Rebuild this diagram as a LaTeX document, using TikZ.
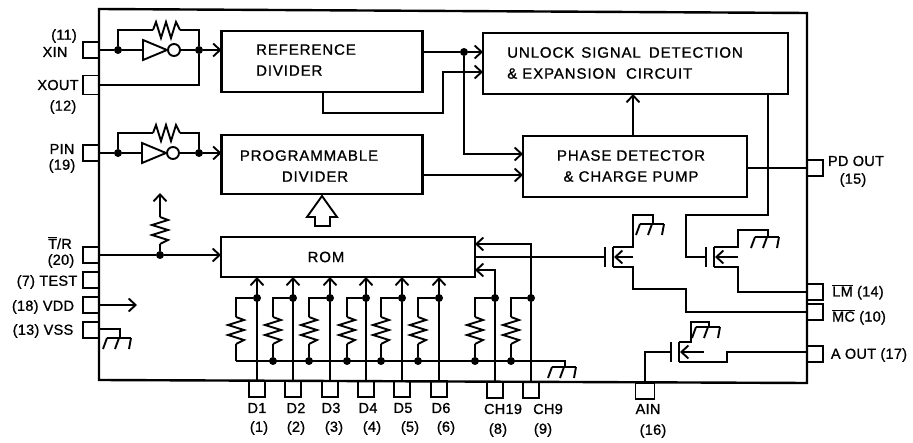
\documentclass[tikz,border=0pt]{standalone}
\usepackage{fontspec}
\usepackage{tikz}
\usetikzlibrary{arrows.meta}
\setmainfont[LetterSpace=6,FakeBold=1]{Liberation Sans}
\newfontfamily\pinfont[LetterSpace=2,FakeBold=1]{Liberation Sans}
\tikzset{
  wire/.style={line width=1.9pt,line join=miter},
  arrowwire/.style={wire,-{Straight Barb[length=7pt,width=13pt,line width=1.9pt]}},
  block/.style={draw,line width=2.4pt,rectangle,inner sep=0pt,outer sep=0pt},
  pinbox/.style={draw,line width=1.8pt,rectangle,inner sep=0pt,outer sep=0pt,minimum width=16pt,minimum height=16pt},
  dot/.style={circle,fill=black,inner sep=0pt,minimum size=8pt},
  blocktext/.style={inner sep=0pt,font=\fontsize{15}{21}\selectfont},
  pintext/.style={inner sep=0pt,font=\pinfont\fontsize{14.5}{16}\selectfont},
  pics/res/.style={code={
    \coordinate (-a) at (0,0);
    \coordinate (-b) at (27,0);
    \draw[wire] (0,0) -- (3,-8) -- (8,8) -- (13,-8) -- (18,8) -- (23,-8) -- (27,0);
  }},
  pics/gnd/.style={code={
    \coordinate (-o) at (0,0);
    \draw[wire] (-13,0) -- (11,0);
    \draw[wire] (-13,0) -- (-17,11);
    \draw[wire] (-1,0) -- (-5,11);
    \draw[wire] (11,0) -- (9,11);
  }},
  pics/inv/.style={code={
    \coordinate (-in) at (0,0);
    \coordinate (-out) at (37,0);
    \draw[wire] (0,-10) -- (24,0) -- (0,10) -- cycle;
    \draw[wire] (31,0) circle (6);
  }},
  pics/fet/.style={code={
    \coordinate (-g) at (0,0);
    \coordinate (-d) at (8,-10);
    \coordinate (-s) at (8,10);
    \draw[line width=2.4pt] (0,-10) -- (0,10);
    \draw[line width=2.4pt] (8,-10) -- (8,10);
    \draw[arrowwire] (#1,0) -- (9,0);
  }},
}
\begin{document}
\begin{tikzpicture}[x=1pt,y=-1pt]
\useasboundingbox (0,0) rectangle (913,443);
\draw [line width=2.4pt] (99,9) -- (807,13) -- (807,383) -- (99,380) -- cycle;

\node [block,minimum width=201pt,minimum height=61pt] (refdiv) at (322,61.5) {};
\node [block,minimum width=201pt,minimum height=59pt] (progdiv) at (322,164.5) {};
\node [block,minimum width=254pt,minimum height=40pt] (rom) at (348,257) {};
\node [block,minimum width=305pt,minimum height=61pt] (unlock) at (635.5,63.5) {};
\node [block,minimum width=224pt,minimum height=61pt] (phase) at (635,166.5) {};
\node [blocktext,align=left] (reftext) at (306,60) {REFERENCE\\DIVIDER};
\node [blocktext,align=center] (progtext) at (309,166) {PROGRAMMABLE\\\hspace{12pt}DIVIDER};
\node [blocktext] (romtext) at (326,257) {ROM};
\node [blocktext,align=left] (unlocktext) at (625,63) {UNLOCK\hspace{2pt} SIGNAL\hspace{3pt} DETECTION\\\& EXPANSION\ \ CIRCUIT\hspace{44pt}};
\node [blocktext,align=center] (phasetext) at (631,166) {PHASE DETECTOR\\\& CHARGE PUMP};

\node [pinbox] (xin) at (91,50) {};
\node [pinbox,minimum height=19pt] (xout) at (91,85) {};
\node [pinbox] (pin) at (91,153) {};
\node [pinbox] (tr) at (91,255) {};
\node [pinbox] (test) at (91,280) {};
\node [pinbox] (vdd) at (91,305) {};
\node [pinbox] (vss) at (91,330) {};
\node [pinbox] (pdout) at (815,168) {};
\node [pinbox] (lm) at (815,292) {};
\node [pinbox] (mc) at (815,312) {};
\node [pinbox] (aout) at (815,354) {};
\node [pinbox] (d1) at (257,389) {};
\node [pinbox] (d2) at (293,389) {};
\node [pinbox] (d3) at (330,389) {};
\node [pinbox] (d4) at (366,389) {};
\node [pinbox] (d5) at (402,389) {};
\node [pinbox] (d6) at (439,389) {};
\node [pinbox] (ch19) at (495,390) {};
\node [pinbox] (ch9) at (531,390) {};
\node [pinbox,minimum width=19pt] (ain) at (645,391) {};

\node [pintext] (xinnum) at (64,36) {(11)};
\node [pintext] (xinname) at (55,52) {XIN};
\node [pintext] (xoutname) at (58,85) {XOUT};
\node [pintext] (xoutnum) at (63,107) {(12)};
\node [pintext] (pinname) at (62,149) {PIN};
\node [pintext] (pinnum) at (62,166) {(19)};
\node [pintext] (trname) at (60,243) {$\overline{\hbox{T}}$/R};
\node [pintext] (trnum) at (61,261) {(20)};
\node [pintext] (testname) at (47,282) {(7) TEST};
\node [pintext] (vddname) at (43,307) {(18) VDD};
\node [pintext] (vssname) at (43,331) {(13) VSS};
\node [pintext] (pdname) at (856,161) {PD OUT};
\node [pintext] (pdnum) at (853,180) {(15)};
\node [pintext] (lmname) at (858,292) {$\overline{\hbox{LM}}$ (14)};
\node [pintext] (mcname) at (859,317) {$\overline{\hbox{MC}}$ (10)};
\node [pintext] (aoutname) at (869,355) {A OUT (17)};
\node [pintext] (d1name) at (257,408) {D1};
\node [pintext] (d1num) at (259,428) {(1)};
\node [pintext] (d2name) at (296,408) {D2};
\node [pintext] (d2num) at (296,428) {(2)};
\node [pintext] (d3name) at (331,408) {D3};
\node [pintext] (d3num) at (334,428) {(3)};
\node [pintext] (d4name) at (368,408) {D4};
\node [pintext] (d4num) at (372,428) {(4)};
\node [pintext] (d5name) at (403,408) {D5};
\node [pintext] (d5num) at (410,428) {(5)};
\node [pintext] (d6name) at (441,408) {D6};
\node [pintext] (d6num) at (446,428) {(6)};
\node [pintext] (ch19name) at (503,409) {CH19};
\node [pintext] (ch19num) at (498,430) {(8)};
\node [pintext] (ch9name) at (548,409) {CH9};
\node [pintext] (ch9num) at (543,430) {(9)};
\node [pintext] (ainname) at (648,409) {AIN};
\node [pintext] (ainnum) at (653,431) {(16)};

\node [dot] (xindot) at (118,50) {};
\node [dot] (xoutdot) at (199,50) {};
\pic (inva) at (143,50) {inv};
\pic (resa) at (153,30) {res};
\draw [wire] (xin.east) -- (xindot) -- (inva-in);
\draw [wire] (inva-out) -- (xoutdot);
\draw [arrowwire] (xoutdot) -- (xoutdot -| refdiv.west);
\draw [wire] (xindot) |- (resa-a);
\draw [wire] (resa-b) -| (xoutdot);
\draw [wire] (xoutdot) |- (xout.east);

\node [dot] (pindot) at (118,153) {};
\node [dot] (pinoutdot) at (199,153) {};
\pic (invb) at (142,153) {inv};
\pic (resb) at (153,133) {res};
\draw [wire] (pin.east) -- (pindot) -- (invb-in);
\draw [wire] (invb-out) -- (pinoutdot);
\draw [arrowwire] (pinoutdot) -- (pinoutdot -| progdiv.west);
\draw [wire] (pindot) |- (resb-a);
\draw [wire] (resb-b) -| (pinoutdot);

\node [dot] (refdot) at (464,52) {};
\coordinate (reflow) at (323,113);
\coordinate (unlockin) at (443,72);
\coordinate (phasein) at (464,154);
\coordinate (progout) at (430,175);
\coordinate (phaseup) at (633,115);
\draw [wire] (refdot -| refdiv.east) -- (refdot);
\draw [arrowwire] (refdot) -- (refdot -| unlock.west);
\draw [arrowwire] (reflow |- refdiv.south) -- (reflow) -| (unlockin) -- (unlockin -| unlock.west);
\draw [arrowwire] (refdot) -- (phasein) -- (phasein -| phase.west);
\draw [arrowwire] (progout -| progdiv.east) -- (progout -| phase.west);
\draw [arrowwire] (phaseup |- phase.north) -- (phaseup |- unlock.south);
\draw [wire] (phase.east |- pdout) -- (pdout.west);

\coordinate (busarrow) at (322,196);
\draw [wire,line join=miter] (busarrow) -- ++(15,21) -- ++(-7,0) -- ++(0,9) -- ++(-15,0) -- ++(0,-9) -- ++(-8,0) -- cycle;

\node [dot] (trdot) at (160,255) {};
\coordinate (trtop) at (160,193);
\pic [rotate=-90] (rest) at (160,217) {res};
\draw [wire] (tr.east) -- (trdot);
\draw [arrowwire] (trdot) -- (trdot -| rom.west);
\draw [wire] (trdot) -- (rest-b);
\draw [arrowwire] (rest-a) -- (trtop);

\coordinate (vddend) at (137,305);
\draw [arrowwire] (vdd.east) -- (vddend);
\coordinate (vsscorner) at (120,329);
\pic (gnda) at (120,338) {gnd};
\draw [wire] (vsscorner -| vss.east) -- (vsscorner) -- (gnda-o);

\coordinate (busl) at (236,361);
\coordinate (busr) at (565,361);
\pic (gndb) at (565,367) {gnd};
\draw [wire] (busl) -- (busr) -- (gndb-o);

\draw [arrowwire] (d1.north) -- (d1.north |- rom.south);
\draw [arrowwire] (d2.north) -- (d2.north |- rom.south);
\draw [arrowwire] (d3.north) -- (d3.north |- rom.south);
\draw [arrowwire] (d4.north) -- (d4.north |- rom.south);
\draw [arrowwire] (d5.north) -- (d5.north |- rom.south);
\draw [arrowwire] (d6.north) -- (d6.north |- rom.south);
\node [dot] (d1dot) at (257,298) {};
\node [dot] (d2dot) at (293,298) {};
\node [dot] (d3dot) at (330,298) {};
\node [dot] (d4dot) at (366,298) {};
\node [dot] (d5dot) at (402,298) {};
\node [dot] (d6dot) at (439,298) {};
\node [dot] (ch19dot) at (495,298) {};
\node [dot] (ch9dot) at (531,298) {};
\node [dot] (d2bus) at (273,361) {};
\node [dot] (d3bus) at (309,361) {};
\node [dot] (d4bus) at (347,361) {};
\node [dot] (d5bus) at (381,361) {};
\node [dot] (d6bus) at (418,361) {};
\node [dot] (ch19bus) at (475,361) {};
\node [dot] (ch9bus) at (511,361) {};
\pic [rotate=-90] (resd1) at (236,317) {res};
\pic [rotate=-90] (resd2) at (273,317) {res};
\pic [rotate=-90] (resd3) at (309,317) {res};
\pic [rotate=-90] (resd4) at (347,317) {res};
\pic [rotate=-90] (resd5) at (381,317) {res};
\pic [rotate=-90] (resd6) at (418,317) {res};
\pic [rotate=-90] (resch19) at (475,317) {res};
\pic [rotate=-90] (resch9) at (511,317) {res};
\draw [wire] (d1dot) -| (resd1-a);
\draw [wire] (d2dot) -| (resd2-a);
\draw [wire] (d3dot) -| (resd3-a);
\draw [wire] (d4dot) -| (resd4-a);
\draw [wire] (d5dot) -| (resd5-a);
\draw [wire] (d6dot) -| (resd6-a);
\draw [wire] (ch19dot) -| (resch19-a);
\draw [wire] (ch9dot) -| (resch9-a);
\draw [wire] (resd1-b) -- (busl);
\draw [wire] (resd2-b) -- (d2bus);
\draw [wire] (resd3-b) -- (d3bus);
\draw [wire] (resd4-b) -- (d4bus);
\draw [wire] (resd5-b) -- (d5bus);
\draw [wire] (resd6-b) -- (d6bus);
\draw [wire] (resch19-b) -- (ch19bus);
\draw [wire] (resch9-b) -- (ch9bus);

\coordinate (ch19in) at (495,270);
\coordinate (ch9in) at (531,244);
\draw [arrowwire] (ch19.north) -- (ch19in) -- (ch19in -| rom.east);
\draw [arrowwire] (ch9.north) -- (ch9in) -- (ch9in -| rom.east);

\pic (feta) at (605,257) {fet=28};
\pic (fetb) at (706,257) {fet=32};
\pic (fetc) at (671,352) {fet=33};
\pic (gndc) at (653,224) {gnd};
\pic (gndd) at (768,237) {gnd};
\pic (gnde) at (709,327) {gnd};
\coordinate (fa1) at (633,215);
\coordinate (fa2) at (633,289);
\coordinate (fa3) at (686,312);
\coordinate (fb1) at (738,230);
\coordinate (fb2) at (738,292);
\coordinate (fc1) at (691,322);
\coordinate (fc2) at (727,352);
\coordinate (lockdown) at (768,215);
\coordinate (gateb) at (686,257);
\draw [wire] (rom.east |- feta-g) -- (feta-g);
\draw [wire] (feta-d) -| (fa1) -| (gndc-o);
\draw [wire] (feta-s) -| (fa2) -| (fa3) -- (fa3 -| mc.west);
\draw [wire] (lockdown |- unlock.south) -- (lockdown) -| (gateb) -- (fetb-g);
\draw [wire] (fetb-d) -| (fb1) -| (gndd-o);
\draw [wire] (fetb-s) -| (fb2) -- (fb2 -| lm.west);
\draw [wire] (fetc-d) -| (fc1) -| (gnde-o);
\draw [wire] (fetc-s) -| (fc2) -- (fc2 -| aout.west);
\draw [wire] (fetc-g) -| (ain.north);
\end{tikzpicture}
\end{document}
